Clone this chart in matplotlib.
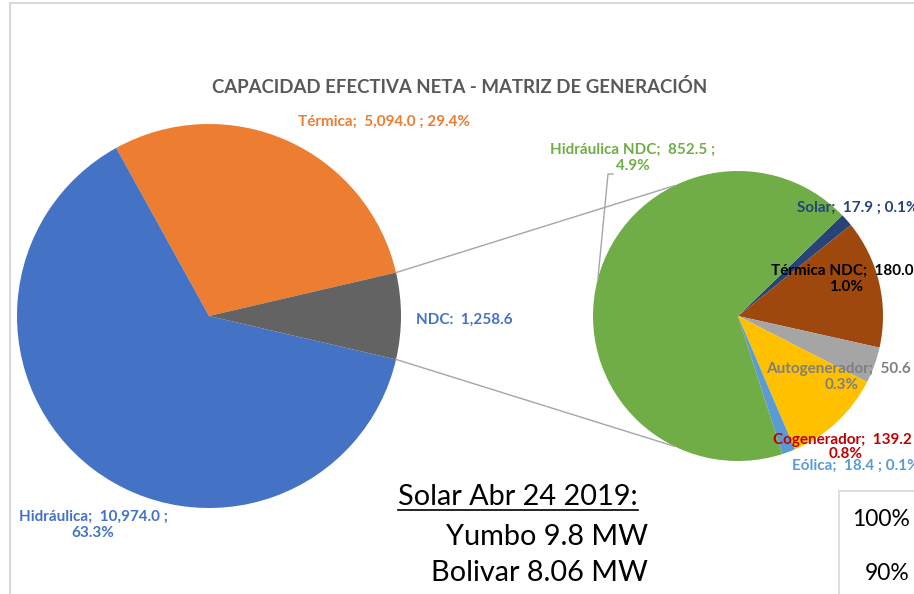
import matplotlib
matplotlib.use('Agg')
import matplotlib.pyplot as plt
import numpy as np

W, H = 914, 594

# main pie data
main_labels = ['Térmica', 'Hidráulica', 'NDC']
main_values = [5094.0, 10974.0, 1258.6]
main_colors = ['#ED7D31', '#4472C4', '#636363']
main_text_colors = ['#ED7D31', '#4472C4', '#4472C4']

# breakdown of NDC (secondary pie)
ndc_labels = ['Solar', 'Térmica NDC', 'Autogenerador', 'Cogenerador', 'Eólica', 'Hidráulica NDC']
ndc_values = [17.9, 180.0, 50.6, 139.2, 18.4, 852.5]
ndc_colors = ['#264478', '#9E480E', '#A5A5A5', '#FFC000', '#5B9BD5', '#70AD47']
ndc_text_colors = ['#264478', '#000000', '#7F7F7F', '#C00000', '#5B9BD5', '#70AD47']

note_title = 'Solar Abr 24 2019:'
note_lines = ['Yumbo 9.8 MW', 'Bolivar 8.06 MW']
side_ticks = ['100%', '90%']

total = sum(main_values)
ndc_frac = main_values[2] / total

plt.rcParams['font.family'] = ['Lato', 'DejaVu Sans']

fig = plt.figure(figsize=(W / 100, H / 100), dpi=100)
ax = fig.add_axes([0, 0, 1, 1])

def Y(y):
    # image row -> axis coordinate (y up)
    return H - y

c1, r1 = (209, Y(316)), 192
c2, r2 = (738, Y(316)), 145

ax.pie(main_values, colors=main_colors, startangle=ndc_frac * 180, counterclock=True,
       center=c1, radius=r1, wedgeprops=dict(linewidth=0))
ax.pie(ndc_values, colors=ndc_colors, startangle=44, counterclock=False,
       center=c2, radius=r2, wedgeprops=dict(linewidth=0))

ax.set_xlim(0, W)
ax.set_ylim(0, H)
ax.set_aspect('equal')
ax.set_axis_off()

# connector lines between the two pies
half = np.radians(ndc_frac * 180)
sec = np.radians(116)
for s in (1, -1):
    x0 = c1[0] + r1 * np.cos(half)
    y0 = c1[1] + s * r1 * np.sin(half)
    x1 = c2[0] + r2 * np.cos(sec)
    y1 = c2[1] + s * r2 * np.sin(sec)
    ax.plot([x0, x1], [y0, y1], color='#A6A6A6', lw=1)

# chart frame and neighbouring chart box
ax.plot([10, W], [Y(3), Y(3)], color='#D9D9D9', lw=1.5)
ax.plot([10, 10], [Y(3), 0], color='#D9D9D9', lw=1.5)
ax.plot([839, 839], [Y(491), 0], color='#D9D9D9', lw=1.2)
ax.plot([839, W], [Y(491), Y(491)], color='#D9D9D9', lw=1.2)

ax.text(460, Y(87), 'CAPACIDAD EFECTIVA NETA - MATRIZ DE GENERACIÓN', ha='center', va='center',
        fontsize=13.4, fontweight='bold', color='#595959')

lab = dict(fontsize=11, fontweight='bold', va='center')

def fmt(name, v):
    return f'{name};  {v:,.1f} ; {v / total * 100:.1f}%'

ax.text(298, Y(122), fmt(main_labels[0], main_values[0]), color=main_text_colors[0], ha='left', **lab)
ax.text(93, Y(525), f'{main_labels[1]};  {main_values[1]:,.1f} ;\n{main_values[1] / total * 100:.1f}%',
        color=main_text_colors[1], ha='center', multialignment='center', linespacing=1.2, **lab)
ax.text(416, Y(320), f'{main_labels[2]}:  {main_values[2]:,.1f}', color=main_text_colors[2], ha='left', **lab)

# secondary labels
def fmt2(name, v):
    return f'{name};  {v:,.1f} ;\n{v / total * 100:.1f}%'

ax.text(797, Y(208), fmt(ndc_labels[0], ndc_values[0]), color=ndc_text_colors[0], ha='left', **lab)
ax.text(846, Y(279), fmt2(ndc_labels[1], ndc_values[1]), color=ndc_text_colors[1], ha='center',
        multialignment='center', linespacing=1.2, **lab)
ax.text(842, Y(377), fmt2(ndc_labels[2], ndc_values[2]), color=ndc_text_colors[2], ha='center',
        multialignment='center', linespacing=1.2, **lab)
ax.text(846, Y(447), fmt2(ndc_labels[3], ndc_values[3]), color=ndc_text_colors[3], ha='center',
        multialignment='center', linespacing=1.0, **lab)
ax.text(792, Y(466), fmt(ndc_labels[4], ndc_values[4]), color=ndc_text_colors[4], ha='left', **lab)
ax.text(633, Y(158), fmt2(ndc_labels[5], ndc_values[5]), color=ndc_text_colors[5], ha='center',
        multialignment='center', linespacing=1.2, **lab)

# leader line for Hidráulica NDC
ang = np.radians(165)
ax.plot([613, 608, c2[0] + r2 * np.cos(ang)], [Y(174), Y(174), c2[1] + r2 * np.sin(ang)],
        color='#A6A6A6', lw=1)

# solar note
t = ax.text(398, Y(497), note_title, ha='left', va='center', fontsize=20.8, color='black')
ax.text(648, Y(537), note_lines[0], ha='right', va='center', fontsize=20.8, color='black')
ax.text(648, Y(573), note_lines[1], ha='right', va='center', fontsize=20.8, color='black')
fig.canvas.draw()
bb = t.get_window_extent()
ax.plot([bb.x0, bb.x1], [Y(510), Y(510)], color='black', lw=1.2)

# partial axis labels of the adjacent chart
ax.text(910, Y(520), side_ticks[0], ha='right', va='center', fontsize=16.5, color='black')
ax.text(910, Y(573), side_ticks[1], ha='right', va='center', fontsize=16.5, color='black')

fig.savefig('out.png', dpi=100)
